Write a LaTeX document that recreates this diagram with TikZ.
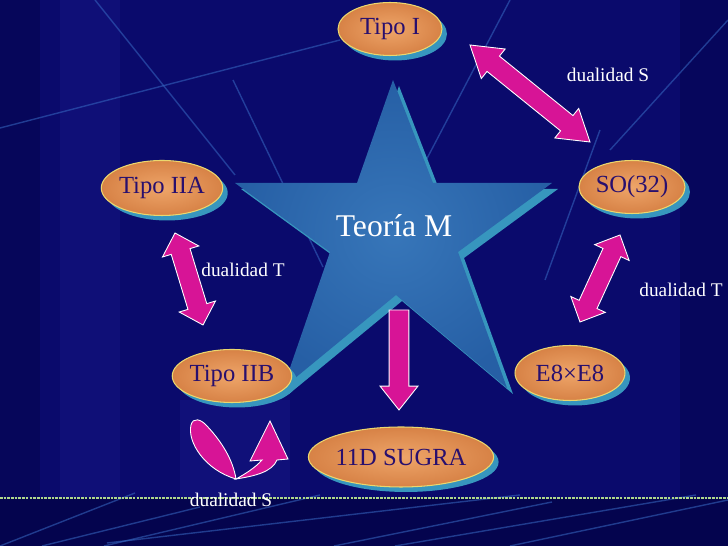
\documentclass[tikz,border=0pt]{standalone}
\usepackage{fontspec}
\setmainfont{Liberation Serif}
\usetikzlibrary{shapes.geometric,shadows,calc}

\definecolor{bgblue}{RGB}{10,10,108}
\definecolor{bgdark}{RGB}{4,4,78}
\definecolor{bgband}{RGB}{20,20,130}
\definecolor{linebl}{RGB}{55,105,195}
\definecolor{arrowmag}{RGB}{215,20,150}
\definecolor{nodeor}{RGB}{215,130,70}
\definecolor{nodeorl}{RGB}{238,165,105}
\definecolor{nodeedge}{RGB}{235,215,110}
\definecolor{nodetxt}{RGB}{40,15,110}
\definecolor{shteal}{RGB}{55,150,190}
\definecolor{starbl}{RGB}{38,95,165}
\definecolor{starbll}{RGB}{55,118,185}
\definecolor{rule}{RGB}{175,215,140}

\tikzset{theory/.style = {shape=ellipse,draw=nodeedge,line width=0.6pt,
    shading=radial,inner color=nodeorl,outer color=nodeor,
    minimum width=2.12cm,minimum height=1.06cm,inner sep=0pt,
    text=nodetxt,font=\fontsize{14}{16}\selectfont,
    drop shadow={shadow xshift=0.1cm,shadow yshift=-0.1cm,fill=shteal,opacity=1}}}
\tikzset{duality/.style = {text=white,font=\fontsize{11}{13}\selectfont}}
\tikzset{fatarrow/.style = {fill=arrowmag,draw=white,line width=0.5pt,line join=miter}}
\tikzset{deco/.style = {draw=linebl,line width=0.8pt,opacity=0.55}}

% fat double arrow between two coordinates, [#1] = head length
\newcommand{\dualarrow}[3][11pt]{%
  \coordinate (h1) at ($(#2)!#1!(#3)$);
  \coordinate (h2) at ($(#3)!#1!(#2)$);
  \filldraw[fatarrow] (#2) -- ($(h1)!10.8pt!90:(#3)$) -- ($(h1)!5.6pt!90:(#3)$)
    -- ($(h2)!5.6pt!-90:(#2)$) -- ($(h2)!10.8pt!-90:(#2)$) -- (#3)
    -- ($(h2)!10.8pt!90:(#2)$) -- ($(h2)!5.6pt!90:(#2)$)
    -- ($(h1)!5.6pt!-90:(#3)$) -- ($(h1)!10.8pt!-90:(#3)$) -- cycle;}
% fat single arrow from #2 to #3
\newcommand{\onearrow}[3][13.6pt]{%
  \coordinate (h2) at ($(#3)!#1!(#2)$);
  \filldraw[fatarrow] ($(#2)!5.6pt!90:(#3)$) -- ($(h2)!5.6pt!-90:(#2)$)
    -- ($(h2)!10.8pt!-90:(#2)$) -- (#3) -- ($(h2)!10.8pt!90:(#2)$)
    -- ($(h2)!5.6pt!90:(#2)$) -- ($(#2)!5.6pt!-90:(#3)$) -- cycle;}

\begin{document}
\begin{tikzpicture}[x=0.02cm,y=-0.02cm]

	% background
	\fill[bgblue] (0,0) rectangle (728,546);
	\useasboundingbox (0,0) rectangle (728,546);
	\fill[bgband,opacity=0.6] (180,400) rectangle (290,497);
	\fill[bgband,opacity=0.5] (60,0) rectangle (120,497);
	\fill[bgdark,opacity=0.6] (0,0) rectangle (40,497);
	\fill[bgdark,opacity=0.5] (680,0) rectangle (728,497);
	\fill[bgdark] (0,498) rectangle (728,546);
	\draw[deco] (0,128) -- (340,40);
	\draw[deco] (95,0) -- (235,175);
	\draw[deco] (233,80) -- (323,267);
	\draw[deco] (510,0) -- (400,210);
	\draw[deco] (600,130) -- (545,280);
	\draw[deco] (728,20) -- (610,150);
	\draw[deco] (0,546) -- (135,493);
	\draw[deco] (42,546) -- (200,507);
	\draw[deco] (104,546) -- (320,495);
	\draw[deco] (107,543) -- (520,495);
	\draw[deco] (334,546) -- (552,502);
	\draw[deco] (395,546) -- (696,495);
	\draw[deco] (510,546) -- (728,500);
	\draw[rule,line width=1.2pt,dash pattern=on 1.5pt off 0.6pt] (0,498) -- (728,498);

	% star
	\fill[shteal] ([shift={(6,6)}]393,80) -- ([shift={(6,6)}]433,183) -- ([shift={(6,6)}]552,183)
		-- ([shift={(6,6)}]458,252) -- ([shift={(6,6)}]507,388) -- ([shift={(6,6)}]396,295)
		-- ([shift={(6,6)}]283,388) -- ([shift={(6,6)}]330,252) -- ([shift={(6,6)}]235,183)
		-- ([shift={(6,6)}]357,183) -- cycle;
	\shade[inner color=starbll,outer color=starbl] (393,80) -- (433,183) -- (552,183)
		-- (458,252) -- (507,388) -- (396,295) -- (283,388) -- (330,252) -- (235,183)
		-- (357,183) -- cycle;
	\node[text=white,font=\fontsize{18}{20}\selectfont] (mth) at (394,226) {Teoría M};

	% vertices
	\node[theory,minimum width=2.08cm] (tipoI) at (390,29) {Tipo I};
	\node[theory,minimum width=2.2cm,minimum height=1.1cm] (tipoIIA) at (162,188) {Tipo IIA};
	\node[theory] (so32) at (632,187) {SO(32)};
	\node[theory] (tipoIIB) at (232,376) {Tipo IIB};
	\node[theory,minimum width=2.2cm,minimum height=1.1cm] (e8e8) at (570,373) {E8×E8};
	\node[theory,minimum width=3.56cm,minimum height=1.2cm] (sugra) at (401,457) {11D SUGRA};

	% arrow ends
	\coordinate (sIa) at (470,45);
	\coordinate (sIb) at (590,142);
	\coordinate (tAa) at (175,233);
	\coordinate (tAb) at (203,325);
	\coordinate (tHa) at (620,235);
	\coordinate (tHb) at (580,322);
	\coordinate (mTop) at (399,310);
	\coordinate (mBot) at (399,410);

	%edges
	\dualarrow[17pt]{sIa}{sIb}
	\dualarrow{tAa}{tAb}
	\dualarrow{tHa}{tHb}
	\onearrow{mTop}{mBot}
	\filldraw[fatarrow] (236,479) .. controls (205,470) and (187,442) .. (191,425)
		.. controls (193,417) and (201,419) .. (207,426)
		.. controls (222,442) and (233,460) .. (236,479) -- cycle;
	\filldraw[fatarrow] (236,479) .. controls (255,476) and (272,472) .. (277,460)
		-- (288,459) -- (270,421) -- (250,461) -- (262,460)
		.. controls (255,468) and (245,474) .. (236,479) -- cycle;

	% labels
	\node[duality] (dSI) at (608,75) {dualidad S};
	\node[duality] (dTA) at (243,270) {dualidad T};
	\node[duality] (dTH) at (681,290) {dualidad T};
	\node[duality] (dSB) at (231,500) {dualidad S};
\end{tikzpicture}
\end{document}
